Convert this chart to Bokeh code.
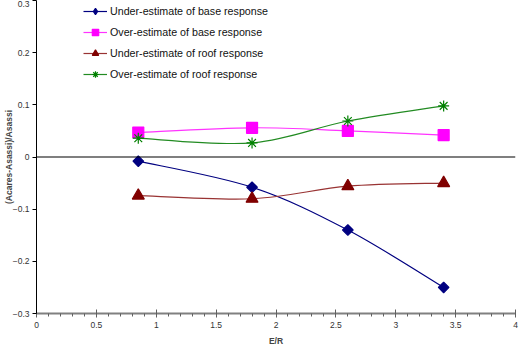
import math
from bokeh.plotting import figure
from bokeh.models import Range1d, Span, Legend, LegendItem, FixedTicker, ColumnDataSource
from bokeh.embed import file_html
from bokeh.resources import INLINE

# E/R ratios and relative errors (Acares-Asassi)/Asassi
er = [0.85, 1.8, 2.6, 3.4]
under_base = [-0.008, -0.058, -0.140, -0.250]
over_base = [0.047, 0.056, 0.050, 0.042]
under_roof = [-0.074, -0.080, -0.056, -0.050]
over_roof = [0.036, 0.027, 0.069, 0.098]

x_ticks = [0, 0.5, 1, 1.5, 2, 2.5, 3, 3.5, 4]
y_ticks = [-0.3, -0.2, -0.1, 0, 0.1, 0.2, 0.3]

FONT = "Liberation Sans"
TICK_FONT_SIZE = "8.5px"

p = figure(width=522, height=348, output_backend="svg", toolbar_location=None,
           x_range=Range1d(0, 4), y_range=Range1d(-0.3, 0.3),
           min_border_left=0, min_border_right=7, min_border_top=0, min_border_bottom=35)
p.outline_line_color = None
p.grid.visible = False
p.background_fill_color = "white"

# axes
xa = p.xaxis[0]
xa.ticker = FixedTicker(ticks=x_ticks, minor_ticks=[i / 10 for i in range(41)])
xa.axis_line_color = "#808080"
xa.axis_line_width = 2
xa.major_tick_line_color = "#606060"
xa.minor_tick_line_color = "#606060"
xa.major_tick_in = 4
xa.major_tick_out = 4
xa.minor_tick_in = 0
xa.minor_tick_out = 3
xa.major_label_text_font = FONT
xa.major_label_text_font_size = TICK_FONT_SIZE
xa.major_label_text_color = "#333333"
xa.major_label_standoff = 4
xa.major_label_overrides = {0: "0", 1: "1", 2: "2", 3: "3", 4: "4"}
xa.axis_label = "E/R"
xa.axis_label_text_font = FONT
xa.axis_label_text_font_style = "bold"
xa.axis_label_text_font_size = "8.5px"
xa.axis_label_standoff = 5

ya = p.yaxis[0]
ya.ticker = FixedTicker(ticks=y_ticks)
ya.minor_tick_line_color = None
ya.axis_line_color = "black"
ya.major_tick_in = 0
ya.major_tick_out = 4
ya.major_label_text_font = FONT
ya.major_label_text_font_size = TICK_FONT_SIZE
ya.major_label_text_color = "#333333"
ya.major_label_standoff = 3
ya.major_label_overrides = {0: "0"}
ya.axis_label = "(Acares-Asassi)/Asassi"
ya.axis_label_text_font = FONT
ya.axis_label_text_font_style = "bold"
ya.axis_label_text_font_size = "8.5px"
ya.axis_label_standoff = -4

p.add_layout(Span(location=0, dimension="width", line_color="black", line_width=1.2))


def smooth_segments(xs, ys):
    """Cubic Bezier segments (Catmull-Rom style) passing through every point."""
    n = len(xs)
    px = [xs[0]] + list(xs) + [xs[-1]]
    py = [ys[0]] + list(ys) + [ys[-1]]
    d = dict(x0=[], y0=[], x1=[], y1=[], cx0=[], cy0=[], cx1=[], cy1=[])
    for i in range(1, n):
        d["x0"].append(px[i]); d["y0"].append(py[i])
        d["x1"].append(px[i + 1]); d["y1"].append(py[i + 1])
        d["cx0"].append(px[i] + (px[i + 1] - px[i - 1]) / 6)
        d["cy0"].append(py[i] + (py[i + 1] - py[i - 1]) / 6)
        d["cx1"].append(px[i + 1] - (px[i + 2] - px[i]) / 6)
        d["cy1"].append(py[i + 1] - (py[i + 2] - py[i]) / 6)
    return ColumnDataSource(d)


# label, values, line colour, marker colour, marker, size, angle, legend marker
series = [
    ("Under-estimate of base response", under_base, "#000080", "#000080", "square", 7.5, math.pi / 4, "diamond"),
    ("Over-estimate of base response", over_base, "#FF33FF", "#FF00FF", "square", 11, 0, None),
    ("Under-estimate of roof response", under_roof, "#993333", "#800000", "triangle", 12, 0, None),
    ("Over-estimate of roof response", over_roof, "#228B22", "#008000", "asterisk", 11, 0, None),
]

items = []
for label, ys, lcolor, mcolor, marker, size, angle, key_marker in series:
    curve = p.bezier(x0="x0", y0="y0", x1="x1", y1="y1", cx0="cx0", cy0="cy0",
                     cx1="cx1", cy1="cy1", source=smooth_segments(er, ys),
                     line_color=lcolor, line_width=1.2)
    pts = p.scatter(er, ys, marker=marker, size=size, angle=angle, fill_color=mcolor,
                    line_color=mcolor, line_width=1.2)
    key = pts
    if key_marker is not None:
        # legend key drawn with an unrotated marker shape (NaN point, never plotted)
        key = p.scatter(x=[math.nan], y=[math.nan], marker=key_marker, size=size,
                        fill_color=mcolor, line_color=mcolor, line_width=1.2)
    items.append(LegendItem(label=label, renderers=[curve, key]))

legend = Legend(items=items, location=(47, 231), border_line_color=None,
                background_fill_alpha=0, label_text_font=FONT,
                label_text_font_size="10.7px", label_text_color="#111111",
                glyph_width=24, glyph_height=16, spacing=5, padding=0, margin=0,
                label_standoff=3, label_height=16)
p.add_layout(legend)

open("out.html", "w").write(file_html(p, INLINE))
